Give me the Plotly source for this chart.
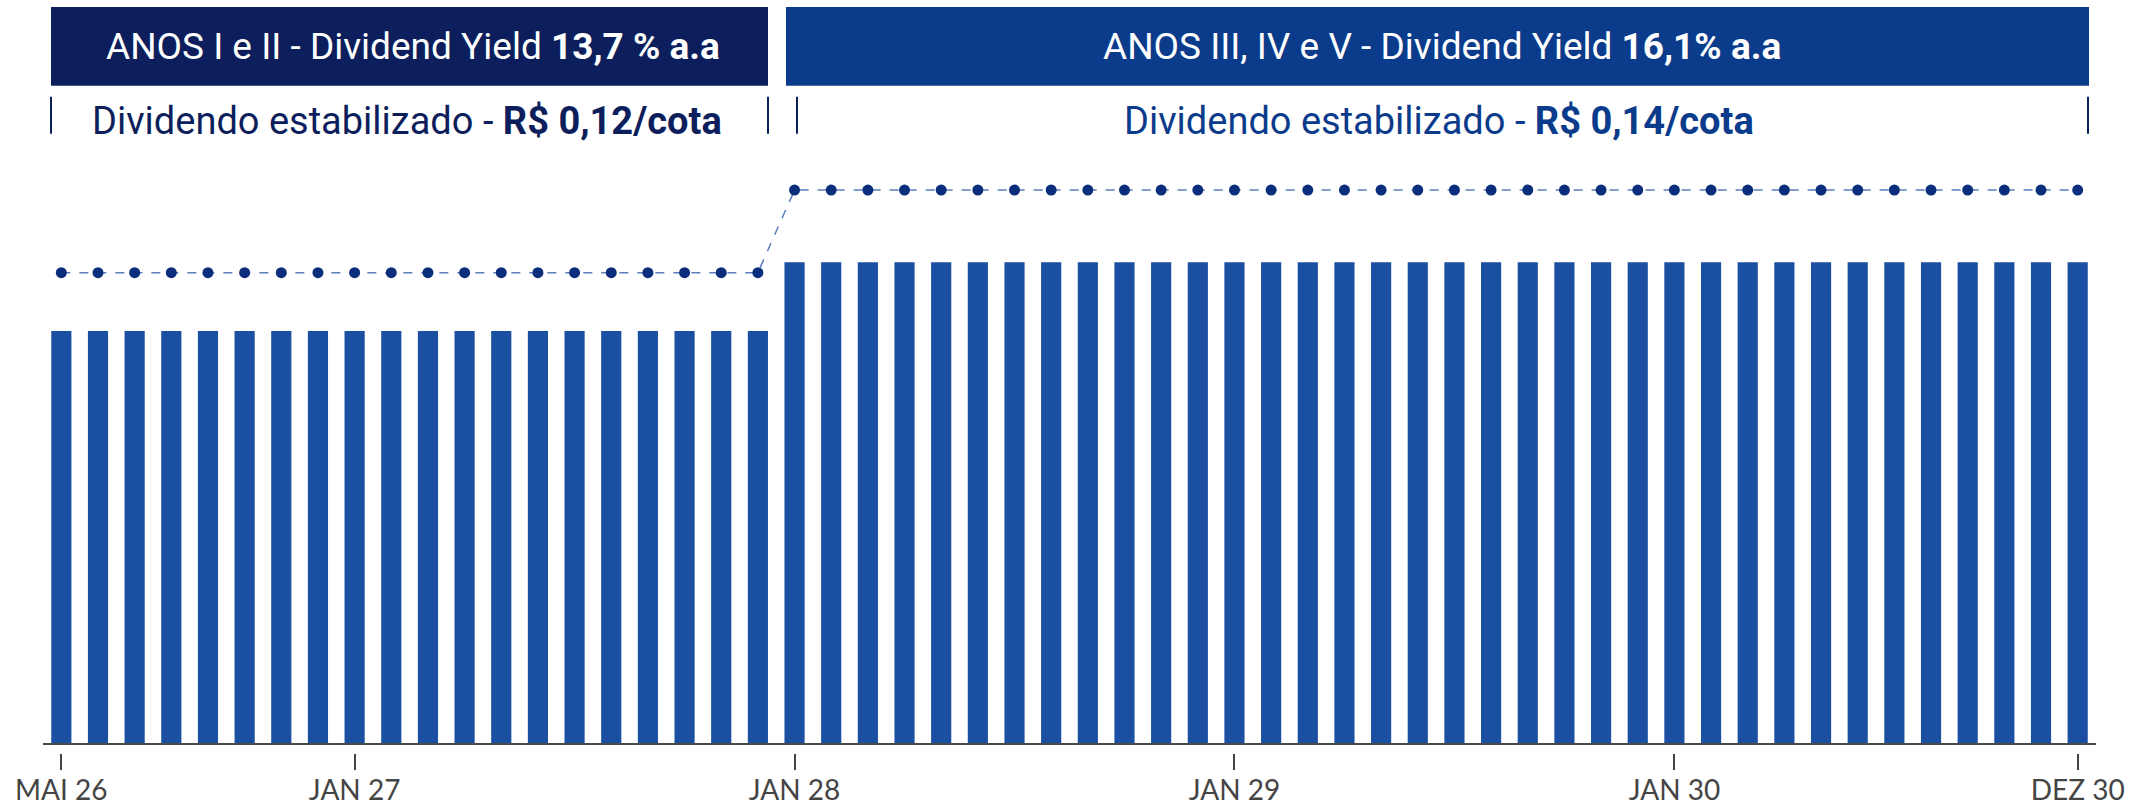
import plotly.graph_objects as go

# ---------------- data ----------------
months = [
    "MAI 26", "JUN 26", "JUL 26", "AGO 26", "SET 26", "OUT 26", "NOV 26", "DEZ 26",
    "JAN 27", "FEV 27", "MAR 27", "ABR 27", "MAI 27", "JUN 27", "JUL 27", "AGO 27",
    "SET 27", "OUT 27", "NOV 27", "DEZ 27",
    "JAN 28", "FEV 28", "MAR 28", "ABR 28", "MAI 28", "JUN 28", "JUL 28", "AGO 28",
    "SET 28", "OUT 28", "NOV 28", "DEZ 28",
    "JAN 29", "FEV 29", "MAR 29", "ABR 29", "MAI 29", "JUN 29", "JUL 29", "AGO 29",
    "SET 29", "OUT 29", "NOV 29", "DEZ 29",
    "JAN 30", "FEV 30", "MAR 30", "ABR 30", "MAI 30", "JUN 30", "JUL 30", "AGO 30",
    "SET 30", "OUT 30", "NOV 30", "DEZ 30",
]

# dividend per share (R$/cota)
dividend = [
    0.12, 0.12, 0.12, 0.12, 0.12, 0.12, 0.12, 0.12, 0.12, 0.12,
    0.12, 0.12, 0.12, 0.12, 0.12, 0.12, 0.12, 0.12, 0.12, 0.12,
    0.14, 0.14, 0.14, 0.14, 0.14, 0.14, 0.14, 0.14, 0.14, 0.14,
    0.14, 0.14, 0.14, 0.14, 0.14, 0.14, 0.14, 0.14, 0.14, 0.14,
    0.14, 0.14, 0.14, 0.14, 0.14, 0.14, 0.14, 0.14, 0.14, 0.14,
    0.14, 0.14, 0.14, 0.14, 0.14, 0.14,
]

# dividend yield (fraction a.a.)
dividend_yield = [
    0.137, 0.137, 0.137, 0.137, 0.137, 0.137, 0.137, 0.137, 0.137, 0.137,
    0.137, 0.137, 0.137, 0.137, 0.137, 0.137, 0.137, 0.137, 0.137, 0.137,
    0.161, 0.161, 0.161, 0.161, 0.161, 0.161, 0.161, 0.161, 0.161, 0.161,
    0.161, 0.161, 0.161, 0.161, 0.161, 0.161, 0.161, 0.161, 0.161, 0.161,
    0.161, 0.161, 0.161, 0.161, 0.161, 0.161, 0.161, 0.161, 0.161, 0.161,
    0.161, 0.161, 0.161, 0.161, 0.161, 0.161,
]

tick_labels = ["MAI 26", "JAN 27", "JAN 28", "JAN 29", "JAN 30", "DEZ 30"]

banner_texts = [
    "ANOS I e II - Dividend Yield <b>13,7 % a.a</b>",
    "ANOS III, IV e V - Dividend Yield <b>16,1% a.a</b>",
]
sub_texts = [
    "Dividendo estabilizado - <b>R$ 0,12/cota</b>",
    "Dividendo estabilizado - <b>R$ 0,14/cota</b>",
]

# ---------------- layout constants ----------------
W, H = 2147, 806
ML, MR, MT, MB = 43, 51, 0, 51
PW = W - ML - MR
PH = H - MT - MB

def px(x):
    return (x - ML) / PW

def py(y):
    return (H - MB - y) / PH

NAVY = "#0c1f5c"
BLUE = "#0b3b8b"
BAR = "#1a4fa1"
DOT = "#0a2e7c"

fig = go.Figure()
fig.add_trace(go.Bar(
    x=months, y=dividend, marker=dict(color=BAR, line=dict(width=0)),
    hoverinfo="x+y", showlegend=False,
))
fig.add_trace(go.Scatter(
    x=months, y=dividend_yield, mode="lines+markers",
    line=dict(color="#5b7dbd", width=1.5, dash="dash"),
    marker=dict(color=DOT, size=11),
    showlegend=False,
))

shapes = []
# banners
shapes.append(dict(type="rect", xref="paper", yref="paper",
                   x0=px(51), x1=px(768), y0=py(86), y1=py(7),
                   fillcolor=NAVY, line=dict(width=0), layer="below"))
shapes.append(dict(type="rect", xref="paper", yref="paper",
                   x0=px(786), x1=px(2089), y0=py(86), y1=py(7),
                   fillcolor=BLUE, line=dict(width=0), layer="below"))
# separators
for xs in [51, 768, 797, 2088]:
    shapes.append(dict(type="line", xref="paper", yref="paper",
                       x0=px(xs), x1=px(xs), y0=py(97), y1=py(134),
                       line=dict(color=NAVY, width=2)))
# baseline
shapes.append(dict(type="line", xref="paper", yref="y",
                   x0=0, x1=1, y0=0, y1=0,
                   line=dict(color="#4a4a4a", width=2), layer="above"))

def ann(text, x, y, size, color):
    return dict(text=text, xref="paper", yref="paper",
                x=px(x), y=py(y), xanchor="center", yanchor="middle",
                showarrow=False,
                font=dict(family="Roboto", size=size, color=color))

annotations = [
    ann(banner_texts[0], 413, 47, 37, "white"),
    ann(banner_texts[1], 1442, 47, 37, "white"),
    ann(sub_texts[0], 407, 121, 38, NAVY),
    ann(sub_texts[1], 1439, 121, 38, BLUE),
]

scale = 3450.0
baseline_px = 746
y_bottom = (baseline_px - (H - MB)) / scale
y_top = baseline_px / scale

fig.update_layout(
    width=W, height=H,
    margin=dict(l=ML, r=MR, t=MT, b=MB),
    paper_bgcolor="white", plot_bgcolor="white",
    bargap=0.45,
    shapes=shapes, annotations=annotations,
    xaxis=dict(
        type="category", categoryorder="array", categoryarray=months,
        range=[-0.5, len(months) - 0.5],
        tickmode="array", tickvals=tick_labels, ticktext=tick_labels,
        ticks="outside", ticklen=16, tickwidth=2, tickcolor="#444",
        ticklabelstandoff=-4,
        showline=False, showgrid=False, zeroline=False,
        tickfont=dict(family="Lato", size=28, color="#444"),
    ),
    yaxis=dict(
        range=[y_bottom, y_top], visible=False, showgrid=False, zeroline=False,
    ),
)

fig.write_html(
    "out.html",
    config={"displayModeBar": False},
    post_script="document.body.style.margin='0px';document.body.style.overflow='hidden';",
)
